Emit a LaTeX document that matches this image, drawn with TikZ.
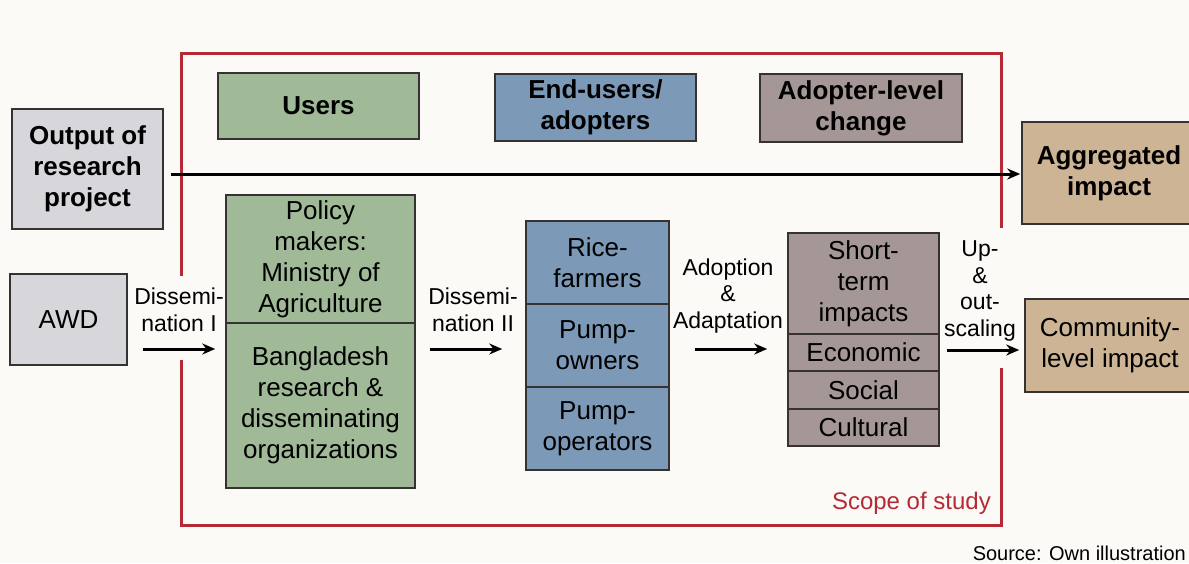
\documentclass[tikz,border=0pt]{standalone}
\usepackage{fontspec}
\setmainfont{Liberation Sans}
\usetikzlibrary{arrows.meta}
\definecolor{bg}{RGB}{251,250,246}
\definecolor{grayfill}{RGB}{214,214,219}
\definecolor{greenfill}{RGB}{160,186,152}
\definecolor{bluefill}{RGB}{124,154,184}
\definecolor{mauvefill}{RGB}{166,151,151}
\definecolor{tanfill}{RGB}{204,180,148}
\definecolor{scopered}{RGB}{182,42,54}
\definecolor{edge}{RGB}{55,50,50}
\tikzset{
  box/.style={draw=edge, line width=1.5pt, inner sep=0pt, align=center,
    font=\fontsize{26}{31}\selectfont},
  hbox/.style={box, font=\fontsize{26}{31}\selectfont\bfseries},
  lbl/.style={align=center, inner sep=0pt, font=\fontsize{23}{26.5}\selectfont},
  arr/.style={line width=3pt, -{Stealth[length=13pt,width=11pt]}},
  scope/.style={draw=scopered, line width=3pt},
}
\begin{document}
\begin{tikzpicture}[x=1pt,y=-1pt]
\clip (0,0) rectangle (1189,563);
\fill[bg] (0,0) rectangle (1189,563);

% scope of study frame
\draw[scope] (181,276) -- (181,53) -- (1001,53) -- (1001,228);
\draw[scope] (1001,368) -- (1001,525) -- (181,525) -- (181,360);
\node[anchor=east, inner sep=0pt, text=scopered, font=\fontsize{24}{28}\selectfont] (scopelbl) at (991,503) {Scope of study};

% header boxes
\node[box, fill=grayfill, minimum width=151pt, minimum height=120pt, font=\fontsize{26}{31}\selectfont\bfseries] (out) at (87.5,169) {Output of\\research\\project};
\node[hbox, fill=greenfill, minimum width=201pt, minimum height=66pt] (users) at (318.5,106) {Users};
\node[hbox, fill=bluefill, minimum width=201pt, minimum height=67pt] (endu) at (595.5,107.5) {End-users/\\adopters};
\node[hbox, fill=mauvefill, minimum width=202pt, minimum height=68pt] (adch) at (861,108) {Adopter-level\\change};
\node[hbox, fill=tanfill, minimum width=174pt, minimum height=102pt] (agg) at (1109,173) {Aggregated\\impact};

% lower boxes
\node[box, fill=grayfill, minimum width=117pt, minimum height=91pt] (awd) at (68.5,319.5) {AWD};
\node[box, fill=greenfill, minimum width=189pt, minimum height=128pt] (pol1) at (320.5,259) {Policy\\makers:\\Ministry of\\Agriculture};
\node[box, fill=greenfill, minimum width=189pt, minimum height=165pt] (pol2) at (320.5,405.5) {Bangladesh\\research \&\\disseminating\\organizations};

\node[box, fill=bluefill, minimum width=143pt, minimum height=83pt] (rice) at (597.5,262.5) {Rice-\\farmers};
\node[box, fill=bluefill, minimum width=143pt, minimum height=83pt] (powner) at (597.5,345.5) {Pump-\\owners};
\node[box, fill=bluefill, minimum width=143pt, minimum height=83pt] (poper) at (597.5,428.5) {Pump-\\operators};

\node[box, fill=mauvefill, minimum width=151pt, minimum height=101pt] (short) at (863.5,283.5) {Short-\\term\\impacts};
\node[box, fill=mauvefill, minimum width=151pt, minimum height=37pt] (econ) at (863.5,352.5) {Economic};
\node[box, fill=mauvefill, minimum width=151pt, minimum height=38pt] (soc) at (863.5,390) {Social};
\node[box, fill=mauvefill, minimum width=151pt, minimum height=37pt] (cult) at (863.5,427.5) {Cultural};

\node[box, fill=tanfill, minimum width=170pt, minimum height=93pt] (comm) at (1110,345.5) {Community-\\level impact};

% labels
\node[lbl] (d1) at (179,310) {Dissemi-\\nation I};
\node[lbl] (d2) at (473,310) {Dissemi-\\nation II};
\node[lbl] (ad) at (728,296) {Adoption\\\&\\Adaptation};
\node[lbl] (up) at (980,291) {Up-\\\&\\out-\\scaling};

% arrows
\coordinate (yM) at (0,174);
\coordinate (yA) at (0,349);
\coordinate (yB) at (0,350);
\draw[arr, shorten <=7pt, shorten >=1pt] (out.east |- yM) -- (agg.west |- yM);
\draw[arr, shorten <=15pt, shorten >=10pt] (awd.east |- yA) -- (pol2.west |- yA);
\draw[arr, shorten <=14pt, shorten >=23pt] (pol2.east |- yA) -- (powner.west |- yA);
\draw[arr, shorten <=25pt, shorten >=20pt] (powner.east |- yA) -- (econ.west |- yA);
\draw[arr, shorten <=7pt, shorten >=5pt] (econ.east |- yB) -- (comm.west |- yB);

\node[anchor=east, inner sep=0pt, font=\fontsize{20}{24}\selectfont] (src) at (1186,553) {Source: Own illustration};
\end{tikzpicture}
\end{document}
